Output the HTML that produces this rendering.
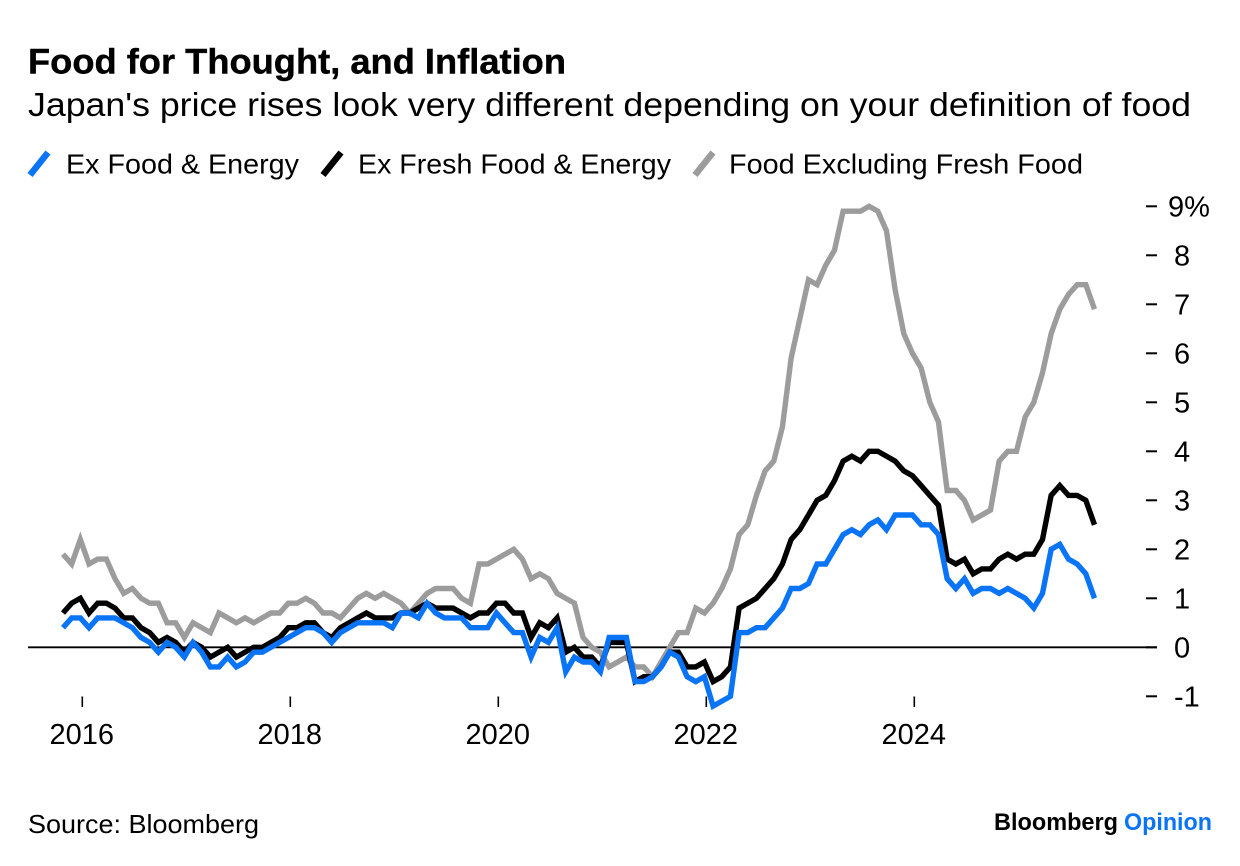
<!DOCTYPE html>
<html lang="en">
<head>
<meta charset="utf-8">
<title>Food for Thought, and Inflation</title>
<style>
html,body{margin:0;padding:0;background:#fff;}
svg{display:block;font-family:"Liberation Sans",sans-serif;}
</style>
</head>
<body>
<svg id="chart" xmlns="http://www.w3.org/2000/svg" width="1240" height="866" viewBox="0 0 1240 866">
  <rect x="0" y="0" width="1240" height="866" fill="#fff"/>
  <text x="28" y="73.5" font-size="35" font-weight="700" fill="#000" stroke="#000" stroke-width="0.4" textLength="538" lengthAdjust="spacingAndGlyphs">Food for Thought, and Inflation</text>
  <text x="28" y="116" font-size="33.5" fill="#000" textLength="1163" lengthAdjust="spacingAndGlyphs">Japan's price rises look very different depending on your definition of food</text>

  <g>
    <g>
      <line x1="30" y1="175" x2="48" y2="152.5" stroke="#0a74f7" stroke-width="6.5"/>
      <text x="66" y="173.5" font-size="27.5" fill="#000" textLength="233" lengthAdjust="spacingAndGlyphs">Ex Food &amp; Energy</text>
    </g>
    <g>
      <line x1="323" y1="175" x2="341" y2="152.5" stroke="#000" stroke-width="6.5"/>
      <text x="358" y="173.5" font-size="27.5" fill="#000" textLength="313" lengthAdjust="spacingAndGlyphs">Ex Fresh Food &amp; Energy</text>
    </g>
    <g>
      <line x1="695" y1="175" x2="713" y2="152.5" stroke="#9c9c9c" stroke-width="6.5"/>
      <text x="729" y="173.5" font-size="27.5" fill="#000" textLength="354" lengthAdjust="spacingAndGlyphs">Food Excluding Fresh Food</text>
    </g>
  </g>

  <g id="y-axis"></g>
  <g id="x-axis"></g>
  <g id="series"></g>

  <text x="28" y="833" font-size="26" fill="#000" textLength="231" lengthAdjust="spacingAndGlyphs">Source: Bloomberg</text>
  <g>
    <text x="994" y="830" font-size="24" font-weight="700" fill="#000" textLength="124" lengthAdjust="spacingAndGlyphs">Bloomberg</text>
    <text x="1124" y="830" font-size="24" font-weight="700" fill="#0a74f7" textLength="88" lengthAdjust="spacingAndGlyphs">Opinion</text>
  </g>
</svg>
<script>
// Monthly observations, Oct 2015 – Sep 2025 (% year over year)
const exFoodEnergy = [
  0.4,0.6,0.6,0.4,0.6,0.6,0.6,0.5,0.4,0.2,
  0.1,-0.1,0.1,0,-0.2,0.1,-0.1,-0.4,-0.4,-0.2,
  -0.4,-0.3,-0.1,-0.1,0,0.1,0.2,0.3,0.4,0.4,
  0.3,0.1,0.3,0.4,0.5,0.5,0.5,0.5,0.4,
  0.7,0.7,0.6,0.9,0.7,0.6,0.6,0.6,0.4,0.4,0.4,
  0.7,0.5,0.3,0.3,-0.2,0.2,0.1,0.4,-0.5,-0.2,
  -0.3,-0.3,-0.5,0.2,0.2,0.2,-0.7,-0.7,-0.6,-0.4,
  -0.1,-0.2,-0.6,-0.7,-0.6,-1.2,-1.1,-1.0,0.3,0.3,
  0.4,0.4,0.6,0.8,1.2,1.2,
  1.3,1.7,1.7,2.0,2.3,2.4,2.3,2.5,2.6,2.4,
  2.7,2.7,2.7,2.5,2.5,2.3,1.4,1.2,1.4,1.1,
  1.2,1.2,1.1,1.2,1.1,1.0,0.8,1.1,2.0,2.1,
  1.8,1.7,1.5,1.0
];
const exFreshFoodEnergy = [
  0.7,0.9,1.0,0.7,0.9,0.9,0.8,0.6,0.6,0.4,
  0.3,0.1,0.2,0.1,-0.1,0.1,0,-0.2,-0.1,0,
  -0.2,-0.1,0,0,0.1,0.2,0.4,0.4,0.5,0.5,
  0.3,0.2,0.4,0.5,0.6,0.7,0.6,0.6,0.6,0.7,
  0.7,0.8,0.9,0.8,0.8,0.8,0.7,0.6,0.7,0.7,
  0.9,0.9,0.7,0.7,0.2,0.5,0.4,0.6,-0.1,0,
  -0.2,-0.2,-0.4,0.1,0.1,0.1,-0.7,-0.6,-0.6,-0.4,
  -0.1,-0.1,-0.4,-0.4,-0.3,-0.7,-0.6,-0.4,0.8,0.9,
  1.0,1.2,1.4,1.7,2.2,2.4,2.7,3.0,3.1,3.4,
  3.8,3.9,3.8,4.0,4.0,3.9,3.8,3.6,3.5,3.3,
  3.1,2.9,1.8,1.7,1.8,1.5,1.6,1.6,1.8,1.9,
  1.8,1.9,1.9,2.2,3.1,3.3,3.1,3.1,3.0,2.5
];
const foodExFreshFood = [
  1.9,1.7,2.2,1.7,1.8,1.8,1.4,1.1,1.2,1.0,
  0.9,0.9,0.5,0.5,0.2,0.5,0.4,0.3,0.7,0.6,
  0.5,0.6,0.5,0.6,0.7,0.7,0.9,0.9,1.0,0.9,
  0.7,0.7,0.6,0.8,1.0,1.1,1.0,1.1,1.0,0.9,
  0.7,0.9,1.1,1.2,1.2,1.2,1.0,0.9,1.7,1.7,
  1.8,1.9,2.0,1.8,1.4,1.5,1.4,1.1,1.0,0.9,
  0.2,0,-0.1,-0.4,-0.3,-0.2,-0.4,-0.4,-0.6,-0.3,
  0,0.3,0.3,0.8,0.7,0.9,1.2,1.6,2.3,2.5,
  3.1,3.6,3.8,4.5,5.9,6.7,7.5,7.4,7.8,8.1,
  8.9,8.9,8.9,9.0,8.9,8.5,7.3,6.4,6.0,5.7,
  5.0,4.6,3.2,3.2,3.0,2.6,2.7,2.8,3.8,4.0,
  4.0,4.7,5.0,5.6,6.4,6.9,7.2,7.4,7.4,6.9
];
const yTickValues = [9,8,7,6,5,4,3,2,1,0,-1];
const yTickLabels = ['9%','8','7','6','5','4','3','2','1','0','-1'];
const xTickYears = [2016,2018,2020,2022,2024];

const NS = 'http://www.w3.org/2000/svg';
function xOfIndex(i){ return 63 + 8.668 * i; }
function xOfYear(yr){ return 82.3 + 104 * (yr - 2016); }
function yOfValue(v){ return 647.3 - 49 * v; }
function make(tag, attrs, parent){
  const el = document.createElementNS(NS, tag);
  for (const k in attrs) el.setAttribute(k, attrs[k]);
  parent.appendChild(el);
  return el;
}

const yAxis = document.getElementById('y-axis');
yTickValues.forEach(function(v, i){
  const tick = make('line', {x1:1146, x2:1157, y1:yOfValue(v), y2:yOfValue(v), stroke:'#000', 'stroke-width':2}, yAxis);
  
  
  const label = make('text', {x: i === 0 ? 1168 : 1174, y: yOfValue(v) + 10, 'font-size':29, fill:'#000'}, yAxis);
  
  
  label.textContent = yTickLabels[i];
});
const zeroLine = make('line', {x1:28, x2:1157, y1:yOfValue(0), y2:yOfValue(0), stroke:'#000', 'stroke-width':1.8}, yAxis);



const xAxis = document.getElementById('x-axis');
xTickYears.forEach(function(yr){
  const tick = make('line', {x1:xOfYear(yr), x2:xOfYear(yr), y1:696.5, y2:707, stroke:'#000', 'stroke-width':1.6}, xAxis);
  
  
  const label = make('text', {x:xOfYear(yr) - 0.5, y:744, 'font-size':29, fill:'#000', 'text-anchor':'middle'}, xAxis);
  
  
  label.textContent = String(yr);
});

const seriesGroup = document.getElementById('series');
function drawSeries(values, color){
  const pts = values.map(function(v, i){ return xOfIndex(i).toFixed(2) + ',' + yOfValue(v).toFixed(2); }).join(' ');
  return make('polyline', {points:pts, fill:'none', stroke:color, 'stroke-width':5.4, 'stroke-linejoin':'miter', 'stroke-miterlimit':3, 'stroke-linecap':'butt'}, seriesGroup);
}
const grayLine = drawSeries(foodExFreshFood, '#9c9c9c');


const blackLine = drawSeries(exFreshFoodEnergy, '#000');


const blueLine = drawSeries(exFoodEnergy, '#0a74f7');


</script>
</body>
</html>
